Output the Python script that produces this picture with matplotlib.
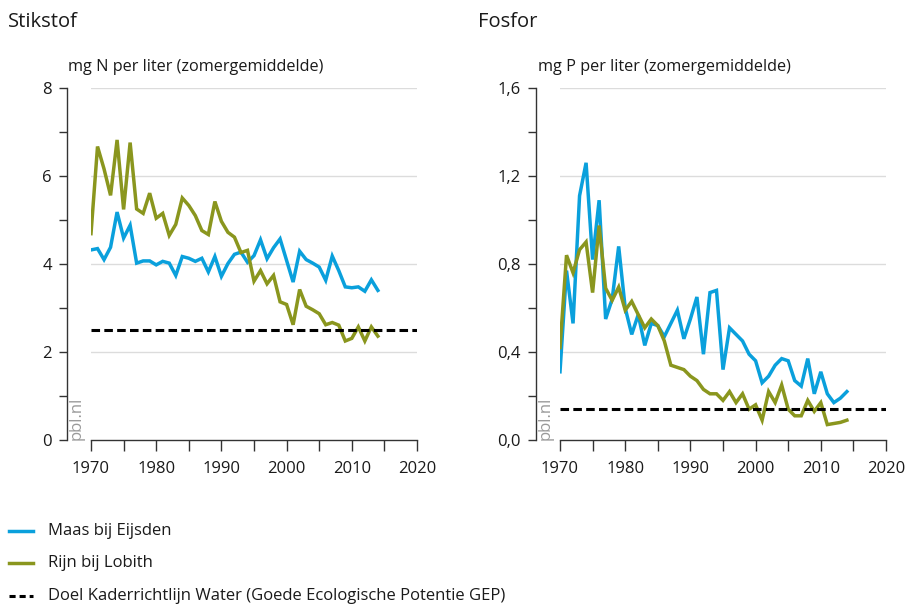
import matplotlib
matplotlib.use("Agg")
import matplotlib.pyplot as plt
from matplotlib.ticker import MultipleLocator, FuncFormatter
from matplotlib.lines import Line2D

plt.rcParams['font.family'] = ['Open Sans', 'DejaVu Sans']

years = list(range(1970, 2015))

maas_n = [4.32, 4.35, 4.10, 4.38, 5.18, 4.59, 4.88, 4.02, 4.07, 4.07,
          3.98, 4.06, 4.02, 3.74, 4.17, 4.13, 4.06, 4.13, 3.82, 4.17,
          3.72, 4.01, 4.22, 4.27, 4.04, 4.19, 4.55, 4.12, 4.37, 4.57,
          4.08, 3.59, 4.29, 4.10, 4.02, 3.93, 3.63, 4.18, 3.85, 3.48,
          3.46, 3.48, 3.38, 3.64, 3.40]
rijn_n = [4.69, 6.67, 6.16, 5.56, 6.82, 5.24, 6.76, 5.25, 5.15, 5.61,
          5.04, 5.15, 4.65, 4.90, 5.50, 5.33, 5.10, 4.76, 4.67, 5.42,
          4.97, 4.72, 4.61, 4.26, 4.31, 3.61, 3.85, 3.55, 3.74, 3.14,
          3.08, 2.62, 3.42, 3.04, 2.96, 2.87, 2.62, 2.67, 2.61, 2.25,
          2.31, 2.57, 2.25, 2.57, 2.36]
maas_p = [0.31, 0.77, 0.53, 1.11, 1.26, 0.82, 1.09, 0.55, 0.64, 0.88,
          0.60, 0.48, 0.57, 0.43, 0.53, 0.52, 0.47, 0.53, 0.59, 0.46,
          0.55, 0.65, 0.39, 0.67, 0.68, 0.32, 0.51, 0.48, 0.45, 0.39,
          0.36, 0.26, 0.29, 0.34, 0.37, 0.36, 0.27, 0.245, 0.37, 0.21,
          0.31, 0.21, 0.17, 0.19, 0.22]
rijn_p = [0.42, 0.84, 0.76, 0.865, 0.90, 0.67, 0.975, 0.69, 0.635, 0.695,
          0.59, 0.63, 0.57, 0.51, 0.55, 0.52, 0.45, 0.34, 0.33, 0.32,
          0.29, 0.27, 0.23, 0.21, 0.21, 0.18, 0.22, 0.17, 0.21, 0.14,
          0.16, 0.09, 0.22, 0.17, 0.25, 0.14, 0.11, 0.11, 0.18, 0.13,
          0.17, 0.07, 0.075, 0.08, 0.09]
doel_n = 2.5
doel_p = 0.14

titles = ["Stikstof", "Fosfor"]
units = ["mg N per liter (zomergemiddelde)", "mg P per liter (zomergemiddelde)"]
legend_labels = ["Maas bij Eijsden", "Rijn bij Lobith",
                 "Doel Kaderrichtlijn Water (Goede Ecologische Potentie GEP)"]

BLUE = '#0aa0dc'
OLIVE = '#8a961e'
GRID = '#dcdcdc'
TXT = '#1a1a1a'

W, H = 905, 606
fig = plt.figure(figsize=(W / 100, H / 100), dpi=100)

def fx(px):
    return px / W

def fy(py):
    return 1 - py / H

panels = [
    dict(x0=91, x1=417, maas=maas_n, rijn=rijn_n, doel=doel_n, ymax=8, major=2, minor=1,
         fmt=lambda v, p: f"{v:.0f}", title_x=8, unit_x=68),
    dict(x0=560, x1=886, maas=maas_p, rijn=rijn_p, doel=doel_p, ymax=1.6, major=0.4, minor=0.2,
         fmt=lambda v, p: f"{v:.1f}".replace('.', ','), title_x=478, unit_x=538),
]

for i, pn in enumerate(panels):
    ax = fig.add_axes([fx(pn['x0']), fy(440), fx(pn['x1'] - pn['x0']), (440 - 88) / H])
    ax.set_xlim(1970, 2020)
    ax.set_ylim(0, pn['ymax'])
    for v in [pn['major'] * k for k in range(1, 5)]:
        ax.axhline(v, color=GRID, lw=1.0, zorder=0)
    ax.plot(years, pn['maas'], color=BLUE, lw=2.5, solid_joinstyle='miter', zorder=3)
    ax.plot(years, pn['rijn'], color=OLIVE, lw=2.5, solid_joinstyle='miter', zorder=4)
    ax.axhline(pn['doel'], color='black', lw=2.2, dashes=(2.8, 1.4), zorder=5)

    for s in ['top', 'right']:
        ax.spines[s].set_visible(False)
    ax.spines['left'].set_position(('outward', 17))
    ax.spines['left'].set_color('#333333')
    ax.spines['bottom'].set_color('#333333')
    ax.spines['left'].set_linewidth(1.0)
    ax.spines['bottom'].set_linewidth(1.0)

    ax.yaxis.set_major_locator(MultipleLocator(pn['major']))
    ax.yaxis.set_minor_locator(MultipleLocator(pn['minor']))
    ax.yaxis.set_major_formatter(FuncFormatter(pn['fmt']))
    ax.xaxis.set_major_locator(MultipleLocator(10))
    ax.xaxis.set_minor_locator(MultipleLocator(5))
    ax.tick_params(axis='y', which='both', length=6, width=1.0, color='#333333',
                   labelsize=12, labelcolor=TXT, pad=5)
    ax.tick_params(axis='x', which='both', length=8, width=1.0, color='#333333',
                   labelsize=12, labelcolor=TXT, pad=7)

    fig.text(fx(pn['title_x']), fy(22), titles[i], fontsize=14.5, color=TXT,
             ha='left', va='center')
    fig.text(fx(pn['unit_x']), fy(67), units[i], fontsize=11.7, color=TXT,
             ha='left', va='center')
    ax.text(-0.045, 0.0, "pbl.nl", transform=ax.transAxes, rotation=90,
            fontsize=12, color='#9a9a9a', ha='center', va='bottom')

# legend
leg_items = [(531, dict(color=BLUE, lw=2.5)),
             (563, dict(color=OLIVE, lw=2.5)),
             (596, dict(color='black', lw=2.2, dashes=(2.0, 1.3)))]
for (py, style), lab in zip(leg_items, legend_labels):
    fig.add_artist(Line2D([fx(9), fx(33)], [fy(py), fy(py)], transform=fig.transFigure, **style))
    fig.text(fx(48), fy(py), lab, fontsize=12, color=TXT, ha='left', va='center')

fig.savefig("out.png", dpi=100)
